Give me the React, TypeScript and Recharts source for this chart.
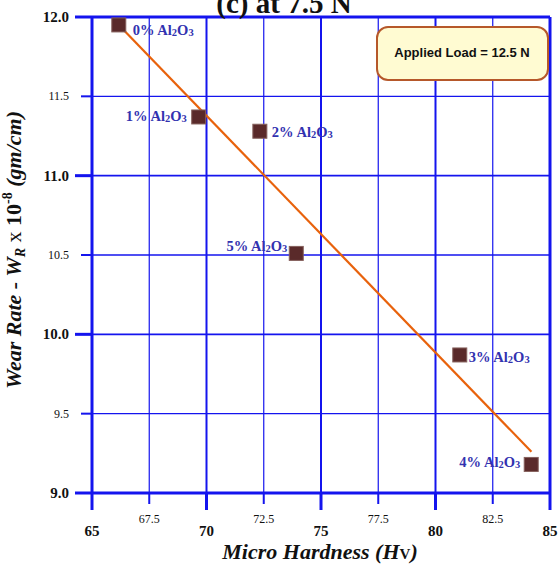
import React from 'react';
import { ReferenceLine, Scatter, ScatterChart, XAxis, YAxis } from 'recharts';

const SAMPLES = ['0%', '1%', '2%', '5%', '3%', '4%'];
const HARDNESS = [66.17, 69.66, 72.33, 73.92, 81.06, 84.18];
const WEAR_RATE = [11.95, 11.37, 11.28, 10.51, 9.87, 9.18];

const FIT_HARDNESS = [66.17, 84.19];
const FIT_WEAR_RATE = [11.95, 9.26];

const X_TICKS = [65, 67.5, 70, 72.5, 75, 77.5, 80, 82.5, 85];
const Y_TICKS = [9, 9.5, 10, 10.5, 11, 11.5, 12];
const X_LABELS = ['65', '67.5', '70', '72.5', '75', '77.5', '80', '82.5', '85'];
const Y_LABELS = ['9.0', '9.5', '10.0', '10.5', '11.0', '11.5', '12.0'];

const points = SAMPLES.map((label, i) => ({ label, x: HARDNESS[i], y: WEAR_RATE[i] }));
const fitLine = FIT_HARDNESS.map((x, i) => ({ x, y: FIT_WEAR_RATE[i] }));

// where each point's caption sits, relative to the marker centre
const LABEL_PLACE: Record<string, { dx: number; dy: number; anchor: 'start' | 'end' }> = {
  '0%': { dx: 14, dy: 10, anchor: 'start' },
  '1%': { dx: -12, dy: 4, anchor: 'end' },
  '2%': { dx: 12, dy: 6, anchor: 'start' },
  '5%': { dx: -9, dy: -2, anchor: 'end' },
  '3%': { dx: 9, dy: 7, anchor: 'start' },
  '4%': { dx: -11, dy: 3, anchor: 'end' },
};

const BLUE = '#1414ee';
const LABEL_BLUE = '#3232b0';
const SERIF = '"Liberation Serif", "Times New Roman", serif';

const isMajor = (v: number) => Number.isInteger(v);

const XTick = (props: any) => {
  const { x, y, payload } = props;
  const v = payload.value as number;
  const text = X_LABELS[X_TICKS.indexOf(v)] ?? String(v);
  const major = isMajor(v);
  return (
    <g>
      <line x1={x} y1={y} x2={x} y2={y + (major ? 17 : 11)} stroke={BLUE} strokeWidth={major ? 3 : 2} />
      <text
        x={x}
        y={y + (major ? 43 : 30)}
        textAnchor="middle"
        fontFamily={SERIF}
        fontSize={major ? 15 : 12}
        fontWeight={major ? 'bold' : 'normal'}
        fill="#111"
      >
        {text}
      </text>
    </g>
  );
};

const YTick = (props: any) => {
  const { x, y, payload } = props;
  const v = payload.value as number;
  const text = Y_LABELS[Y_TICKS.indexOf(v)] ?? String(v);
  const major = isMajor(v);
  return (
    <g>
      <line x1={x} y1={y} x2={x - (major ? 17 : 11)} y2={y} stroke={BLUE} strokeWidth={major ? 3 : 2} />
      <text
        x={69}
        y={y + (major ? 5 : 4)}
        textAnchor="end"
        fontFamily={SERIF}
        fontSize={major ? 15 : 12}
        fontWeight={major ? 'bold' : 'normal'}
        fill="#111"
      >
        {text}
      </text>
    </g>
  );
};

const PointShape = (props: any) => {
  const { cx, cy, payload } = props;
  const place = LABEL_PLACE[payload.label];
  return (
    <g>
      <rect x={cx - 7} y={cy - 7} width={14} height={14} fill="#5a2a2a" stroke="#85605c" strokeWidth={1} />
      <text
        x={cx + place.dx}
        y={cy + place.dy}
        textAnchor={place.anchor}
        fontFamily={SERIF}
        fontWeight="bold"
        fontSize={14.5}
        fill={LABEL_BLUE}
      >
        {payload.label} Al
        <tspan fontSize={10.5} dy={1}>2</tspan>
        <tspan dy={-1}>O</tspan>
        <tspan fontSize={10.5} dy={1}>3</tspan>
      </text>
    </g>
  );
};

const NoShape = () => <g />;

export default function App() {
  return (
    <div style={{ position: 'absolute', left: 0, top: 0, width: 559, height: 565 }}>
      <ScatterChart width={559} height={565} margin={{ top: 17, right: 9, bottom: 0, left: 0 }}>
        <XAxis
          type="number"
          dataKey="x"
          domain={[65, 85]}
          ticks={X_TICKS}
          interval={0}
          height={72}
          tickSize={0}
          tickMargin={0}
          axisLine={false}
          tickLine={false}
          tick={<XTick />}
        />
        <YAxis
          type="number"
          dataKey="y"
          domain={[9, 12]}
          ticks={Y_TICKS}
          interval={0}
          width={92}
          tickSize={0}
          tickMargin={0}
          axisLine={false}
          tickLine={false}
          tick={<YTick />}
        />
        {X_TICKS.map((v) => (
          <ReferenceLine
            key={`vx${v}`}
            x={v}
            stroke={BLUE}
            strokeWidth={v === 65 || v === 85 ? 3 : isMajor(v) ? 2 : 1.2}
          />
        ))}
        {Y_TICKS.map((v) => (
          <ReferenceLine
            key={`hy${v}`}
            y={v}
            stroke={BLUE}
            strokeWidth={v === 9 || v === 12 ? 3 : isMajor(v) ? 1.8 : 1.4}
          />
        ))}
        <Scatter
          data={fitLine}
          line={{ stroke: '#e8620c', strokeWidth: 2.2 }}
          shape={<NoShape />}
          isAnimationActive={false}
        />
        <Scatter data={points} shape={<PointShape />} isAnimationActive={false} />
      </ScatterChart>
      <svg width={559} height={565} style={{ position: 'absolute', left: 0, top: 0, pointerEvents: 'none' }}>
        <text x={284} y={12.5} textAnchor="middle" fontFamily={SERIF} fontWeight="bold" fontSize={29} fill="#111">
          (c) at 7.5 N
        </text>
        <rect x={377} y={27} width={171} height={53} rx={11} ry={11} fill="#fffbd2" stroke="#b6582a" strokeWidth={2} />
        <text
          x={462}
          y={57}
          textAnchor="middle"
          fontFamily='"Liberation Sans", Arial, sans-serif'
          fontWeight="bold"
          fontSize={13}
          fill="#111"
        >
          Applied Load = 12.5 N
        </text>
        <text
          x={320}
          y={559}
          textAnchor="middle"
          fontFamily={SERIF}
          fontWeight="bold"
          fontStyle="italic"
          fontSize={22}
          fill="#111"
        >
          Micro Hardness (H
          <tspan fontStyle="normal" fontSize={15}>V</tspan>)
        </text>
        <text
          x={21}
          y={250}
          transform="rotate(-90 21 250)"
          textAnchor="middle"
          fontFamily={SERIF}
          fontWeight="bold"
          fontStyle="italic"
          fontSize={22}
          fill="#111"
        >
          Wear Rate - W
          <tspan fontSize={14} dy={4}>R</tspan>
          <tspan dy={-4} fontStyle="normal" fontWeight="normal">{'  x '}</tspan>
          <tspan fontStyle="normal">10</tspan>
          <tspan fontStyle="normal" fontSize={14} dy={-9}>-8</tspan>
          <tspan dy={9}> (gm/cm)</tspan>
        </text>
      </svg>
    </div>
  );
}
